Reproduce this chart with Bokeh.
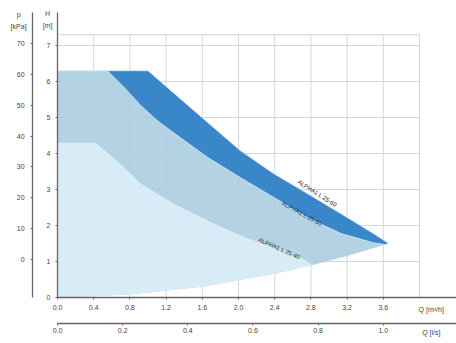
import numpy as np
from bokeh.plotting import figure
from bokeh.models import (LinearAxis, Range1d, FixedTicker, PrintfTickFormatter,
                          Label, ColumnDataSource)
from bokeh.core.properties import value
from bokeh.embed import file_html
from bokeh.resources import INLINE

# ---------------- data ----------------
# flow Q [m3/h] and head H [m] of the three maximum curves
c60_q = [0.0, 1.0, 1.28, 1.66, 2.02, 2.39, 2.76, 3.13, 3.49, 3.66]
c60_h = [6.3, 6.3, 5.69, 4.86, 4.08, 3.44, 2.89, 2.33, 1.78, 1.50]

c50_q = [0.0, 0.55, 0.75, 0.92, 1.10, 1.28, 1.66, 2.02, 2.39, 2.76, 3.13, 3.49, 3.62]
c50_h = [6.3, 6.3, 5.80, 5.33, 4.92, 4.58, 3.89, 3.33, 2.78, 2.22, 1.78, 1.52, 1.47]

c40_q = [0.0, 0.42, 0.66, 0.92, 1.28, 1.66, 2.02, 2.39, 2.69, 2.82]
c40_h = [4.3, 4.3, 3.80, 3.17, 2.61, 2.14, 1.72, 1.39, 1.11, 0.90]

# minimum curve
min_q = [0.0, 0.8, 1.6, 2.4, 2.82, 3.2, 3.62, 3.66]
min_h = [0.0, 0.08, 0.30, 0.66, 0.90, 1.15, 1.47, 1.50]

curve_names = ["ALPHA1 L 25-60", "ALPHA1 L 25-50", "ALPHA1 L 25-40"]

# tick labels
h_ticks = [0, 1, 2, 3, 4, 5, 6, 7]
kpa_ticks = [0, 10, 20, 30, 40, 50, 60, 70]
q_ticks = [0.0, 0.4, 0.8, 1.2, 1.6, 2.0, 2.4, 2.8, 3.2, 3.6]
ls_ticks = [0.0, 0.2, 0.4, 0.6, 0.8, 1.0]
grid_q = [0.4, 0.8, 1.2, 1.6, 2.0, 2.4, 2.8, 3.2, 3.6, 4.0]
grid_h = [1, 2, 3, 4, 5, 6, 7, 7.3]

M3H_PER_LS = 3.6

# ---------------- figure ----------------
X0, X1 = -0.630, 4.409
Y0, Y1 = -1.278, 8.25
H_TOP = 7.917
p = figure(width=456, height=343, x_range=Range1d(X0, X1), y_range=Range1d(Y0, Y1),
           output_backend="svg", toolbar_location=None,
           x_axis_location=None, y_axis_location=None,
           min_border_left=0, min_border_right=0, min_border_top=0, min_border_bottom=0)
p.outline_line_color = None
p.background_fill_color = "white"
p.border_fill_color = "white"
p.xgrid.visible = False
p.ygrid.visible = False

FONT = "Liberation Sans"
AX_COL = "#666666"
LAB_COL = "#444444"

def style(ax, standoff):
    ax.axis_line_color = AX_COL
    ax.axis_line_width = 1.3
    ax.major_tick_line_color = AX_COL
    ax.major_tick_out = 2
    ax.major_tick_in = 0
    ax.minor_tick_out = 0
    ax.minor_tick_in = 0
    ax.major_label_text_font_size = "7px"
    ax.major_label_text_color = LAB_COL
    ax.major_label_text_font = FONT
    ax.major_label_standoff = standoff

# kPa axis (outer left)
p.extra_y_ranges = {"kpa": Range1d(-27.22, 83.93)}
ax_k = LinearAxis(y_range_name="kpa", fixed_location=-0.276,
                  ticker=FixedTicker(ticks=kpa_ticks), bounds=(-12.3, 80.0))
style(ax_k, 6)
p.add_layout(ax_k, "left")

# H axis at Q = 0
ax_h = LinearAxis(fixed_location=0, ticker=FixedTicker(ticks=h_ticks), bounds=(0, H_TOP))
style(ax_h, 5)
p.add_layout(ax_h, "left")

# Q m3/h axis at H = 0
ax_q = LinearAxis(fixed_location=0, ticker=FixedTicker(ticks=q_ticks),
                  formatter=PrintfTickFormatter(format="%.1f"), bounds=(0, X1))
style(ax_q, 6)
p.add_layout(ax_q, "below")

# Q l/s axis
p.extra_x_ranges = {"ls": Range1d(X0 / M3H_PER_LS, X1 / M3H_PER_LS)}
ax_l = LinearAxis(x_range_name="ls", fixed_location=-0.722, ticker=FixedTicker(ticks=ls_ticks),
                  formatter=PrintfTickFormatter(format="%.1f"), bounds=(0, X1 / M3H_PER_LS))
style(ax_l, 3)
p.add_layout(ax_l, "below")

# ---------------- grid ----------------
p.segment(x0=grid_q, y0=0, x1=grid_q, y1=7.3, line_color="#d6d6d6", line_width=1)
p.segment(x0=0, y0=grid_h, x1=4.0, y1=grid_h, line_color="#d6d6d6", line_width=1)

# ---------------- areas ----------------
mq = np.array(min_q); mh = np.array(min_h)

# mid band: under 25-50 down to minimum curve
sel = mq <= c50_q[-1]
mid_x = list(c50_q) + list(mq[sel][::-1])
mid_y = list(c50_h) + list(mh[sel][::-1])
p.patch(mid_x, mid_y, fill_color="#a9cde1", fill_alpha=0.88, line_color=None)

# light band: under 25-40 down to minimum curve
sel = mq <= c40_q[-1]
lt_x = list(c40_q) + list(mq[sel][::-1])
lt_y = list(c40_h) + list(mh[sel][::-1])
p.patch(lt_x, lt_y, fill_color="#daeef8", fill_alpha=0.9, line_color=None)

# dark band: between 25-60 and 25-50
dk_x = list(c60_q) + list(c50_q[::-1])
dk_y = list(c60_h) + list(c50_h[::-1])
p.patch(dk_x, dk_y, fill_color="#3987c9", line_color="#d2e8f4", line_width=0.8)

# ---------------- curve labels ----------------
lab_src = ColumnDataSource(dict(
    x=[2.87, 2.70, 2.45], y=[2.89, 2.33, 1.36],
    text=curve_names, angle=[-0.567, -0.506, -0.42],
    color=["#2a2a2a", "#15304c", "#2a2a2a"]))
p.text(x="x", y="y", text="text", angle="angle", source=lab_src,
       text_color="color", text_font=value(FONT), text_font_size="6px",
       text_align="center", text_baseline="middle")

# ---------------- axis titles ----------------
def lab(x, y, t, align="center"):
    p.add_layout(Label(x=x, y=y, text=t, text_font=FONT, text_font_size="7px",
                       text_color=LAB_COL, text_align=align, text_baseline="middle"))

lab(-0.43, 7.86, "p")
lab(-0.43, 7.53, "[kPa]")
lab(-0.11, 7.89, "H")
lab(-0.11, 7.56, "[m]")
lab(3.99, -0.33, "Q [m³/h]", "left")
lab(4.03, -0.97, "Q [l/s]", "left")

open("out.html", "w").write(file_html(p, INLINE))
